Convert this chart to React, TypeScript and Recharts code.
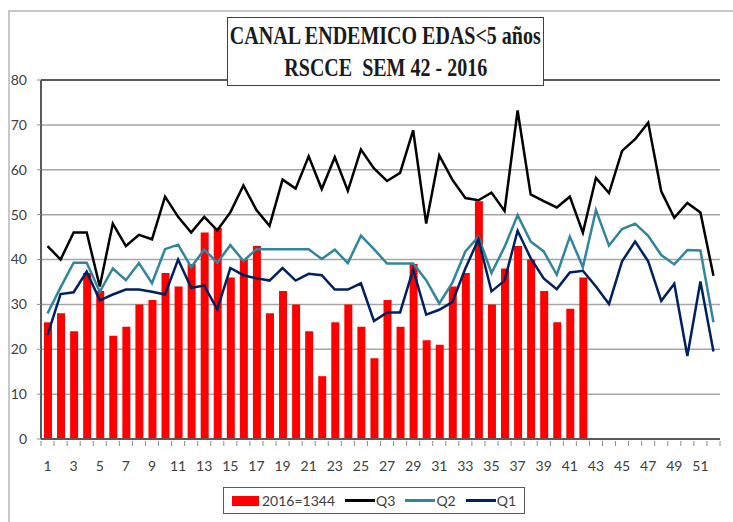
import { ComposedChart, Bar, Line, XAxis, YAxis, CartesianGrid, ReferenceLine } from 'recharts'

const weeks = Array.from({ length: 52 }, (_, i) => i + 1)

// casos 2016 (semanas 1-42)
const cases2016 = [
  26, 28, 24, 37, 33, 23, 25, 30, 31, 37,
  34, 39, 46, 47, 36, 40, 43, 28, 33, 30,
  24, 14, 26, 30, 25, 18, 31, 25, 39, 22,
  21, 34, 37, 53, 30, 38, 43, 40, 33, 26,
  29, 36,
]

const q3 = [
  43, 40, 46, 46, 34, 48, 43, 45.5, 44.5, 54,
  49.5, 46, 49.5, 46.5, 50.5, 56.5, 51, 47.5, 57.8, 55.8,
  63, 55.7, 62.8, 55.3, 64.5, 60.3, 57.5, 59.3, 68.8, 48,
  63.2, 57.8, 53.7, 53.2, 54.9, 50.8, 73.2, 54.5, 53, 51.6,
  54, 46, 58.2, 54.8, 64.2, 66.8, 70.5, 55.2, 49.3, 52.6,
  50.5, 36.4,
]

const q2 = [
  28, 33.8, 39.3, 39.3, 32.8, 38, 35.4, 39.2, 34.7, 42.3,
  43.3, 38.3, 42.2, 39.3, 43.2, 39.7, 42.3, 42.3, 42.3, 42.3,
  42.3, 40.1, 42.2, 39.2, 45.3, 42.3, 39.1, 39.1, 39.1, 35.4,
  30.2, 34.8, 41.8, 45.1, 37, 42.8, 49.9, 44, 41.8, 36.6,
  45.1, 38.3, 51, 43.1, 46.8, 48, 45.3, 41, 38.9, 42.1,
  42, 26,
]

const q1 = [
  23.2, 32.3, 32.7, 37.3, 30.9, 32.2, 33.3, 33.3, 32.8, 32.2,
  40, 33.7, 34.2, 28.9, 38.1, 36.5, 35.8, 35.3, 38.1, 35.3,
  36.8, 36.5, 33.3, 33.3, 34.7, 26.3, 28.2, 28.2, 37.8, 27.7,
  28.8, 30.5, 38, 44.5, 32.9, 35.3, 46.4, 40.3, 35.8, 33.4,
  37.1, 37.5, 34, 30.1, 39.6, 44, 39.6, 30.8, 34.6, 18.5,
  35.1, 19.5,
]

const yTicks = [0, 10, 20, 30, 40, 50, 60, 70, 80]

const legendItems = [
  { label: '2016=1344', color: '#ff0000', bar: true },
  { label: 'Q3', color: '#000000' },
  { label: 'Q2', color: '#31859c' },
  { label: 'Q1', color: '#002060' },
]

const data = weeks.map((w, i) => ({
  week: w,
  cases: i < cases2016.length ? cases2016[i] : null,
  q3: q3[i],
  q2: q2[i],
  q1: q1[i],
}))

const BAND = (720 - 41) / 52
const FONT = 'Lato, "Open Sans", sans-serif'

function WeekTick(props: any) {
  const { x, y, payload } = props
  const showLabel = payload.value % 2 === 1
  return (
    <g>
      <line x1={x - BAND / 2} x2={x - BAND / 2} y1={y - 6} y2={y - 1} stroke="#8c8c8c" strokeWidth={1} />
      {payload.value === 52 && (
        <line x1={x + BAND / 2} x2={x + BAND / 2} y1={y - 6} y2={y - 1} stroke="#8c8c8c" strokeWidth={1} />
      )}
      {showLabel && (
        <text x={x} y={y + 14} dy="0.71em" textAnchor="middle" fill="#404040" fontSize={14} fontFamily={FONT}>
          {payload.value}
        </text>
      )}
    </g>
  )
}

function LegendBox() {
  return (
    <div
      style={{
        position: 'absolute',
        left: 223,
        top: 487,
        width: 302,
        height: 27,
        border: '1.5px solid #595959',
        display: 'flex',
        alignItems: 'center',
        justifyContent: 'center',
        gap: 10,
        fontFamily: FONT,
        fontSize: 14,
        color: '#404040',
        background: '#fff',
        boxSizing: 'border-box',
      }}
    >
      {legendItems.map((it) => (
        <span key={it.label} style={{ display: 'flex', alignItems: 'center' }}>
          {it.bar ? (
            <span style={{ display: 'inline-block', width: 27, height: 10, background: it.color, marginRight: 3 }} />
          ) : (
            <span style={{ display: 'inline-block', width: 30, height: 3, background: it.color, marginRight: 1 }} />
          )}
          {it.label}
        </span>
      ))}
    </div>
  )
}

const titleLine: any = {
  whiteSpace: 'nowrap',
  transform: 'scaleX(0.8)',
  transformOrigin: 'center',
  height: 32,
  lineHeight: '32px',
}

export default function App() {
  return (
    <div style={{ position: 'relative', width: 733, height: 522, overflow: 'hidden', background: '#fff' }}>
      <style>{`body{margin:0}`}</style>
      <div
        style={{
          position: 'absolute',
          left: 8,
          top: 10,
          width: 800,
          height: 600,
          border: '2px solid #c8c8c8',
        }}
      />
      <div style={{ position: 'absolute', left: 0, top: 0 }}>
        <ComposedChart width={733} height={522} data={data} margin={{ top: 80, right: 13, bottom: 0, left: 11 }}>
          <CartesianGrid vertical={false} stroke="#a6a6a6" strokeWidth={1.5} />
          <XAxis
            dataKey="week"
            interval={0}
            tick={<WeekTick />}
            tickLine={false}
            axisLine={{ stroke: '#595959', strokeWidth: 2 }}
            height={83}
          />
          <YAxis
            domain={[0, 80]}
            ticks={yTicks}
            interval={0}
            width={30}
            tickSize={4}
            tickMargin={10}
            tickLine={{ stroke: '#8c8c8c' }}
            axisLine={{ stroke: '#595959', strokeWidth: 2 }}
            tick={{ fill: '#404040', fontSize: 14, fontFamily: FONT }}
          />
          <YAxis
            yAxisId="frame"
            orientation="right"
            domain={[0, 80]}
            width={0}
            tick={false}
            tickLine={false}
            axisLine={{ stroke: '#595959', strokeWidth: 2 }}
          />
          <ReferenceLine y={80} stroke="#595959" strokeWidth={2} />
          <Bar dataKey="cases" fill="#ff0000" barSize={8} isAnimationActive={false} />
          <Line dataKey="q3" stroke="#000000" strokeWidth={2.5} dot={false} type="linear" isAnimationActive={false} />
          <Line dataKey="q2" stroke="#31859c" strokeWidth={2.5} dot={false} type="linear" isAnimationActive={false} />
          <Line dataKey="q1" stroke="#002060" strokeWidth={2.5} dot={false} type="linear" isAnimationActive={false} />
        </ComposedChart>
      </div>
      <LegendBox />
      <div
        style={{
          position: 'absolute',
          left: 227,
          top: 17,
          width: 317,
          height: 69,
          boxSizing: 'border-box',
          border: '1.5px solid #404040',
          background: '#fff',
          fontFamily: '"Liberation Serif", "DejaVu Serif", serif',
          fontWeight: 'bold',
          fontSize: 25,
          color: '#1a1a1a',
          display: 'flex',
          flexDirection: 'column',
          alignItems: 'center',
          justifyContent: 'center',
        }}
      >
        <div style={titleLine}>CANAL ENDEMICO EDAS&lt;5 años</div>
        <div style={titleLine}>RSCCE&nbsp; SEM 42 - 2016</div>
      </div>
    </div>
  )
}
